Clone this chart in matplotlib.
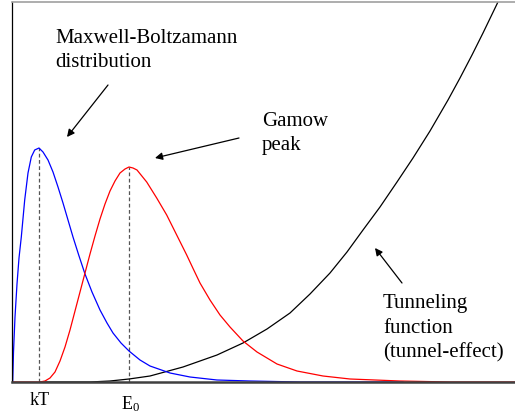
import numpy as np
import matplotlib
matplotlib.use("Agg")
import matplotlib.pyplot as plt

# Energy axis positions (arbitrary units) and curve heights
mb_x = [12.7, 13.5, 15, 17, 19, 21.3, 24.7, 28, 31.3, 34.7, 39, 43, 48, 53, 58, 63,
        68, 73, 78.7, 85, 92, 100, 107, 113, 121, 129, 140, 150, 170, 190, 217, 250,
        300, 403]
mb_y = [0, 30, 65, 98, 124, 145, 182, 209, 225, 232, 234, 230, 222, 210, 195, 179,
        162, 145, 127, 108, 90, 72, 59, 49, 39, 31, 22, 16, 9, 5, 2, 1,
        0, 0]

gamow_x = [12, 40, 45, 50, 55, 60, 65, 70, 75, 80, 85, 90, 95, 100, 105, 110, 115,
           120, 125, 129, 133, 137, 146.7, 156.7, 166.7, 176.7, 186.7, 193.3, 200,
           210, 220, 230, 243, 257, 277, 297, 323, 350, 400, 450, 515]
gamow_y = [0, 0, 1, 4, 10, 21, 35, 52, 71, 90, 109, 128, 146, 163, 178, 191, 201,
           209, 213, 215, 214, 212, 200, 184, 167, 147, 127, 113, 99,
           82, 67, 55, 41, 30, 18, 11, 6, 3, 1, 0, 0]

tunnel_x = [40, 90, 110, 129, 150, 183, 217, 243, 267, 290, 310, 330, 347, 363, 380,
            397, 413, 430, 448, 460, 472, 483, 497, 505]
tunnel_y = [0, 0, 1, 3, 6, 15, 27, 39, 53, 69, 88, 109, 130, 152, 175,
            200, 224, 251, 282, 304, 327, 349, 378, 396]

tick_labels = ["kT", r"$\mathregular{E_0}$"]

W, H = 515, 418
fig = plt.figure(figsize=(W / 100, H / 100), dpi=100)
ax = fig.add_axes([12 / W, 36 / H, (W - 12) / W, 380 / H])
ax.set_xlim(12, 515)
ax.set_ylim(0, 380)
ax.set_xticks([])
ax.set_yticks([])
ax.spines["right"].set_visible(False)
ax.spines["top"].set_color("#a0a0a0")
ax.spines["top"].set_linewidth(1.2)
ax.spines["left"].set_color("black")
ax.spines["left"].set_linewidth(0.9)
ax.spines["bottom"].set_color("#404040")
ax.spines["bottom"].set_linewidth(1.8)

serif = "Liberation Serif"
plt.rcParams["mathtext.fontset"] = "custom"
plt.rcParams["mathtext.rm"] = serif

# dashed markers at the peaks
mb_x_a, mb_y_a = np.array(mb_x), np.array(mb_y)
g_x_a, g_y_a = np.array(gamow_x), np.array(gamow_y)
kT = mb_x_a[np.argmax(mb_y_a)]
E0 = g_x_a[np.argmax(g_y_a)]
ax.vlines([kT], 0, mb_y_a.max(), colors="#555555", linestyles=(0, (3, 2)), lw=0.9)
ax.vlines([E0], 0, g_y_a.max(), colors="#555555", linestyles=(0, (3, 2)), lw=0.9)

ax.plot(tunnel_x, tunnel_y, color="black", lw=0.9)
ax.plot(mb_x, mb_y, color="#0000ff", lw=0.9)
ax.plot(gamow_x, gamow_y, color="#ff0000", lw=0.9)

fs = 15
ax.text(kT + 1, -23, tick_labels[0], ha="center", va="baseline", fontsize=13,
        family=serif, clip_on=False)
ax.text(E0 + 2, -27, tick_labels[1], ha="center", va="baseline", fontsize=13,
        family=serif, clip_on=False)

def lines(x, ys, texts):
    for y, t in zip(ys, texts):
        ax.text(x, y, t, ha="left", va="baseline", fontsize=fs, family=serif)

lines(55, [339, 315], ["Maxwell-Boltzamann", "distribution"])
lines(262, [256, 232], ["Gamow", "peak"])
lines(383, [74, 49, 25], ["Tunneling", "function", "(tunnel-effect)"])

ap = dict(arrowstyle="-|>", lw=0.9, color="black", mutation_scale=11,
          shrinkA=0, shrinkB=0)
ax.annotate("", xy=(67, 245), xytext=(108, 297), arrowprops=ap)
ax.annotate("", xy=(155, 224), xytext=(239, 244), arrowprops=ap)
ax.annotate("", xy=(375, 134), xytext=(402, 99), arrowprops=ap)

fig.savefig("out.png", dpi=100)
